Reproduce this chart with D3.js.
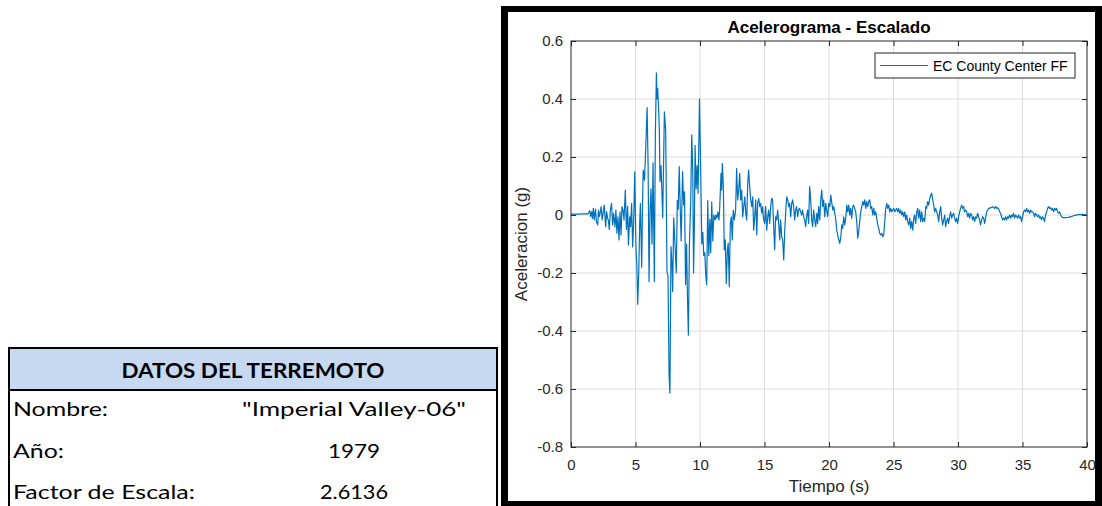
<!DOCTYPE html>
<html>
<head>
<meta charset="utf-8">
<script src="https://cdn.jsdelivr.net/npm/d3@7"></script>
<style>
  html, body { margin: 0; padding: 0; background: #fff; }
  svg { display: block; }
</style>
</head>
<body>
<svg id="fig" width="1102" height="506"></svg>
<script>
// Registro escalado: tiempo (s) y aceleración (g)
const tiempo = [
  0, 0.5, 1.0, 1.3, 1.34, 1.45, 1.52, 1.6, 1.66, 1.73,
  1.8, 1.86, 1.9, 1.97, 2.07, 2.13, 2.2, 2.27, 2.34, 2.41,
  2.48, 2.58, 2.64, 2.69, 2.76, 2.83, 2.89, 2.97, 3.05, 3.14,
  3.23, 3.3, 3.41, 3.48, 3.56, 3.64, 3.72, 3.8, 3.88, 3.95,
  4.03, 4.11, 4.21, 4.3, 4.39, 4.45, 4.55, 4.62, 4.7, 4.78,
  4.86, 4.94, 5.04, 5.1, 5.17, 5.25, 5.33, 5.38, 5.48, 5.55,
  5.6, 5.7, 5.8, 5.9, 5.98, 6.05, 6.13, 6.2, 6.28, 6.36,
  6.46, 6.54, 6.62, 6.67, 6.72, 6.8, 6.85, 6.9, 6.98, 7.11,
  7.24, 7.34, 7.44, 7.52, 7.6, 7.67, 7.75, 7.83, 7.88, 7.96,
  8.06, 8.16, 8.24, 8.31, 8.39, 8.47, 8.54, 8.65, 8.73, 8.8,
  8.88, 8.96, 9.03, 9.1, 9.18, 9.28, 9.36, 9.44, 9.5, 9.56,
  9.62, 9.7, 9.78, 9.85, 9.96, 10.06, 10.14, 10.22, 10.29, 10.37,
  10.45, 10.52, 10.6, 10.68, 10.76, 10.83, 10.91, 10.99, 11.07, 11.17,
  11.24, 11.31, 11.39, 11.47, 11.52, 11.63, 11.68, 11.73, 11.81, 11.88,
  11.96, 12.04, 12.12, 12.19, 12.27, 12.35, 12.43, 12.5, 12.58, 12.66,
  12.76, 12.84, 12.92, 13.0, 13.08, 13.15, 13.23, 13.31, 13.39, 13.47,
  13.55, 13.62, 13.7, 13.77, 13.85, 13.93, 14.01, 14.09, 14.16, 14.24,
  14.32, 14.4, 14.47, 14.55, 14.63, 14.7, 14.78, 14.86, 14.93, 15.01,
  15.09, 15.17, 15.25, 15.32, 15.4, 15.48, 15.55, 15.63, 15.71, 15.79,
  15.86, 15.94, 16.02, 16.1, 16.18, 16.25, 16.33, 16.41, 16.49, 16.57,
  16.64, 16.72, 16.8, 16.88, 16.95, 17.03, 17.11, 17.18, 17.26, 17.34,
  17.41, 17.49, 17.57, 17.64, 17.72, 17.8, 17.88, 17.95, 18.03, 18.11,
  18.19, 18.26, 18.34, 18.42, 18.5, 18.58, 18.66, 18.73, 18.81, 18.89,
  18.97, 19.05, 19.12, 19.2, 19.28, 19.36, 19.44, 19.51, 19.59, 19.67,
  19.75, 19.82, 19.9, 19.98, 20.06, 20.14, 20.22, 20.3, 20.37, 20.45,
  20.53, 20.6, 20.7, 20.83, 20.91, 20.99, 21.06, 21.14, 21.22, 21.3,
  21.38, 21.45, 21.53, 21.61, 21.68, 21.76, 21.84, 21.91, 21.99, 22.07,
  22.15, 22.23, 22.3, 22.38, 22.46, 22.54, 22.62, 22.69, 22.77, 22.85,
  22.92, 23.0, 23.08, 23.16, 23.23, 23.31, 23.39, 23.47, 23.54, 23.62,
  23.7, 23.78, 23.86, 23.93, 24.01, 24.09, 24.17, 24.24, 24.32, 24.4,
  24.48, 24.55, 24.63, 24.71, 24.79, 24.86, 24.94, 25.02, 25.1, 25.17,
  25.25, 25.33, 25.4, 25.48, 25.56, 25.64, 25.71, 25.79, 25.87, 25.95,
  26.02, 26.1, 26.18, 26.26, 26.33, 26.41, 26.49, 26.57, 26.64, 26.72,
  26.8, 26.88, 26.95, 27.03, 27.11, 27.19, 27.26, 27.34, 27.42, 27.5,
  27.57, 27.65, 27.73, 27.81, 27.89, 27.96, 28.04, 28.12, 28.19, 28.27,
  28.35, 28.42, 28.5, 28.58, 28.66, 28.73, 28.81, 28.89, 28.97, 29.04,
  29.12, 29.2, 29.27, 29.35, 29.43, 29.51, 29.58, 29.66, 29.74, 29.82,
  29.89, 29.97, 30.05, 30.13, 30.2, 30.28, 30.36, 30.44, 30.51, 30.59,
  30.67, 30.75, 30.82, 30.9, 30.98, 31.06, 31.13, 31.21, 31.29, 31.37,
  31.44, 31.52, 31.6, 31.68, 31.75, 31.83, 31.91, 31.99, 32.06, 32.14,
  32.22, 32.3, 32.37, 32.45, 32.53, 32.61, 32.68, 32.76, 32.84, 32.92,
  32.99, 33.07, 33.15, 33.23, 33.3, 33.38, 33.46, 33.54, 33.61, 33.69,
  33.77, 33.85, 33.92, 34.0, 34.08, 34.16, 34.23, 34.31, 34.39, 34.47,
  34.55, 34.62, 34.7, 34.78, 34.86, 34.93, 35.01, 35.09, 35.16, 35.24,
  35.32, 35.4, 35.47, 35.55, 35.63, 35.7, 35.78, 35.86, 35.94, 36.01,
  36.09, 36.17, 36.25, 36.32, 36.4, 36.48, 36.56, 36.63, 36.71, 36.79,
  36.87, 36.95, 37.02, 37.1, 37.18, 37.25, 37.33, 37.41, 37.49, 37.56,
  37.64, 37.72, 37.8, 37.87, 37.95, 38.03, 38.11, 38.29, 38.55, 38.81,
  39.06, 39.32, 39.58, 39.84, 40.0
];

const aceleracion = [
  0.003, 0.003, 0.004, 0.004, 0.005, 0.015, -0.005, 0.012, -0.012, 0.023,
  -0.017, 0.008, 0.02, -0.023, -0.034, 0.017, -0.005, 0.01, 0.029, -0.017,
  0.005, 0.034, -0.01, -0.04, 0.012, -0.01, -0.017, -0.05, 0.017, 0.04,
  -0.034, 0.006, -0.04, 0.017, -0.063, -0.006, -0.086, 0.011, -0.069, 0.029,
  0.017, -0.017, 0.086, -0.05, 0.03, -0.103, -0.006, -0.04, 0.04, -0.11,
  -0.023, 0.149, -0.12, -0.167, -0.308, -0.2, -0.02, 0.04, -0.18, 0.05,
  0.155, 0.12, 0.24, 0.37, 0.16, -0.23, 0.02, 0.09, -0.10, 0.18,
  -0.23, 0.28, 0.49, 0.40, 0.437, 0.356, 0.287, 0.115, 0.17, -0.01,
  0.356, 0.29, -0.195, -0.21, -0.55, -0.614, -0.109, -0.17, -0.264, -0.01,
  -0.10, -0.2, 0.05, 0.02, 0.167, 0.02, -0.09, 0.15, 0.035, 0.08,
  -0.24, -0.10, -0.287, -0.414, -0.10, 0.045, 0.276, 0.15, -0.2, -0.05,
  0.24, 0.09, 0.17, 0.075, 0.40, 0.14, -0.10, -0.06, -0.14, -0.13,
  -0.21, -0.24, 0.05, -0.14, -0.015, -0.13, 0.045, -0.09, 0, -0.017,
  0, -0.011, 0.011, -0.017, 0.017, 0.144, 0.086, 0.178, 0.098, -0.12,
  -0.086, -0.236, -0.12, -0.098, -0.247, -0.03, -0.006, -0.086, 0.017, -0.017,
  0.017, 0.16, 0.052, 0.086, 0.144, 0.052, 0.086, -0.006, 0.029, 0.063,
  0.006, -0.017, 0.109, 0.155, 0.098, 0.052, 0.029, 0.063, -0.052, -0.006,
  0.052, -0.069, 0.04, 0.057, 0.029, 0.04, 0.006, 0.029, -0.017, -0.029,
  0.029, -0.052, -0.006, 0.017, -0.029, 0.029, 0.057, 0.052, -0.04, -0.12,
  -0.006, -0.017, 0.017, -0.029, -0.086, -0.017, -0.075, -0.086, -0.155, -0.052,
  0.006, 0.063, 0.052, 0.029, 0.04, -0.006, 0.04, 0.052, 0.029, -0.017,
  0.017, 0.029, -0.006, 0.017, 0.023, 0.011, 0, 0.017, -0.006, -0.017,
  -0.04, -0.006, 0.017, -0.029, 0.098, 0.052, -0.017, -0.04, 0.017, -0.017,
  -0.04, 0.006, -0.029, 0.029, -0.017, 0.052, 0.086, 0.029, 0.052, -0.006,
  0.04, 0.017, -0.006, 0.04, 0.029, 0.069, 0.04, 0.017, 0.029, 0.006,
  -0.017, -0.052, -0.075, -0.098, -0.08, -0.034, -0.046, -0.006, -0.034, -0.011,
  0.034, 0.011, 0.034, 0, 0.023, -0.011, 0.029, 0.034, 0.023, 0.011,
  -0.023, -0.08, -0.057, -0.023, 0.011, 0.029, 0.046, 0.034, 0.052, 0.023,
  0.046, 0.029, 0.046, 0.052, 0.023, 0.029, 0, 0.023, 0, 0.011,
  -0.011, -0.034, -0.046, -0.063, -0.069, -0.063, -0.075, -0.069, -0.023, 0.023,
  0.04, 0.023, 0.034, 0.011, 0.023, 0.011, 0.017, 0.023, 0.011, 0.017,
  0.023, 0.011, 0.023, 0.006, 0.017, 0, 0.011, -0.006, 0.011, -0.017,
  0, -0.023, -0.034, -0.011, -0.046, -0.023, -0.052, -0.011, 0, -0.029,
  0.011, 0.023, -0.011, 0.017, -0.023, 0.011, -0.023, -0.011, -0.023, 0.029,
  0.023, 0.046, 0.034, 0.057, 0.069, 0.075, 0.052, 0.034, 0.011, 0.023,
  0.011, 0, -0.023, 0.011, 0.029, -0.011, -0.034, -0.017, 0, -0.04,
  -0.023, -0.011, -0.029, -0.006, 0.011, -0.011, 0, 0.006, -0.011, -0.023,
  -0.011, -0.029, -0.006, 0.011, 0.023, 0.034, 0.023, 0.029, 0.011, 0.017,
  0.011, -0.006, 0.006, -0.011, 0.006, 0, -0.017, -0.006, -0.023, -0.006,
  -0.011, 0.006, -0.006, -0.017, -0.034, -0.017, -0.006, -0.011, -0.029, -0.011,
  0.011, 0.017, 0.023, 0.023, 0.026, 0.025, 0.029, 0.026, 0.023, 0.029,
  0.023, 0.025, 0.021, 0.011, 0.006, -0.006, -0.017, -0.011, -0.017, -0.006,
  -0.017, -0.006, -0.011, 0, -0.011, 0, -0.006, 0.006, -0.011, 0,
  -0.006, -0.011, 0, -0.011, -0.006, -0.023, -0.006, 0.011, 0.017, 0.011,
  0.023, 0.011, 0.017, 0.006, 0.017, 0.011, 0.011, 0.006, -0.006, 0.006,
  0, -0.006, 0, -0.011, -0.006, -0.017, -0.006, -0.011, -0.023, 0,
  0.011, 0.023, 0.029, 0.023, 0.025, 0.017, 0.023, 0.011, 0.023, 0.017,
  0.023, 0.011, 0.006, 0.011, 0.002, -0.006, -0.009, -0.009, -0.008, -0.005,
  -0.001, 0.001, 0.002, 0.001, 0
];

const xTicks = [0, 5, 10, 15, 20, 25, 30, 35, 40];
const yTicks = [-0.8, -0.6, -0.4, -0.2, 0, 0.2, 0.4, 0.6];
const tituloGrafico = "Acelerograma - Escalado";
const etiquetaX = "Tiempo (s)";
const etiquetaY = "Aceleracion (g)";
const nombreSerie = "EC County Center FF";

const tablaTitulo = "DATOS DEL TERREMOTO";
const tablaCampos = ["Nombre:", "Año:", "Factor de Escala:"];
const tablaValores = ["\"Imperial Valley-06\"", "1979", "2.6136"];

const svg = d3.select("#fig");
const axFont = "'Liberation Sans', Arial, Helvetica, sans-serif";
const axColor = "#262626";
const lineColor = "#0072BD";

// ---------- tabla de datos del sismo ----------
const tabla = svg.append("g");
const tabL = 9, tabR = 497, tabTop = 348, tabHead = 390;
tabla.append("rect")
  .attr("x", tabL).attr("y", tabTop).attr("width", tabR - tabL).attr("height", tabHead - tabTop)
  .attr("fill", "#C6D9F0");
const tabFont = "Lato, 'Open Sans', sans-serif";
tabla.append("text")
  .attr("x", (tabL + tabR) / 2).attr("y", 377.5)
  .attr("text-anchor", "middle")
  .attr("font-family", tabFont).attr("font-weight", "bold").attr("font-size", 21)
  .attr("textLength", 263).attr("lengthAdjust", "spacingAndGlyphs")
  .attr("fill", "#000").text(tablaTitulo);
const filasY = [416, 457.5, 498.5];
const camposLargo = [95, 51, 182];
const valoresLargo = [224, 52, 68];
tablaCampos.forEach((c, i) => {
  tabla.append("text")
    .attr("x", 13).attr("y", filasY[i])
    .attr("font-family", tabFont).attr("font-size", 20)
    .attr("textLength", camposLargo[i]).attr("lengthAdjust", "spacingAndGlyphs")
    .attr("fill", "#000").text(c);
});
tablaValores.forEach((v, i) => {
  tabla.append("text")
    .attr("x", 354).attr("y", filasY[i])
    .attr("text-anchor", "middle")
    .attr("font-family", tabFont).attr("font-size", 20)
    .attr("textLength", valoresLargo[i]).attr("lengthAdjust", "spacingAndGlyphs")
    .attr("fill", "#000").text(v);
});
// bordes de la tabla
const borde = tabla.append("g").attr("stroke", "#000").attr("stroke-width", 2).attr("fill", "none");
borde.append("line").attr("x1", tabL).attr("x2", tabL).attr("y1", tabTop - 1).attr("y2", 506);
borde.append("line").attr("x1", tabR).attr("x2", tabR).attr("y1", tabTop - 1).attr("y2", 506);
borde.append("line").attr("x1", tabL - 1).attr("x2", tabR + 1).attr("y1", tabTop).attr("y2", tabTop);
borde.append("line").attr("x1", tabL - 1).attr("x2", tabR + 1).attr("y1", tabHead).attr("y2", tabHead);

// ---------- marco de la figura ----------
const marco = svg.append("g").attr("fill", "#000");
marco.append("rect").attr("x", 501).attr("y", 6).attr("width", 7).attr("height", 500);
marco.append("rect").attr("x", 501).attr("y", 6).attr("width", 601).attr("height", 6);
marco.append("rect").attr("x", 1095).attr("y", 6).attr("width", 7).attr("height", 500);
marco.append("rect").attr("x", 501).attr("y", 501).attr("width", 601).attr("height", 5);

// ---------- ejes ----------
const pl = 571, pr = 1087, pt = 41, pb = 447;
const x = d3.scaleLinear().domain([0, 40]).range([pl, pr]);
const y = d3.scaleLinear().domain([-0.8, 0.6]).range([pb, pt]);

// rejilla
const grid = svg.append("g").attr("stroke", "#dcdcdc").attr("stroke-width", 1);
grid.selectAll(".gx").data(xTicks.slice(1, -1)).join("line")
  .attr("x1", d => x(d)).attr("x2", d => x(d)).attr("y1", pt).attr("y2", pb);
grid.selectAll(".gy").data(yTicks.slice(1, -1)).join("line")
  .attr("x1", pl).attr("x2", pr).attr("y1", d => y(d)).attr("y2", d => y(d));

// serie temporal
const datos = d3.zip(tiempo, aceleracion);
svg.append("clipPath").attr("id", "area").append("rect")
  .attr("x", pl).attr("y", pt).attr("width", pr - pl).attr("height", pb - pt);
svg.append("path")
  .datum(datos)
  .attr("clip-path", "url(#area)")
  .attr("fill", "none")
  .attr("stroke", lineColor)
  .attr("stroke-width", 1.2)
  .attr("stroke-linejoin", "round")
  .attr("d", d3.line().x(d => x(d[0])).y(d => y(d[1])));

const fmt = d => String(d);
function estiloEje(g) {
  g.select(".domain").remove();
  g.selectAll(".tick line").attr("stroke", axColor);
  g.selectAll(".tick text").attr("fill", axColor)
    .attr("font-family", axFont).attr("font-size", 15);
}
svg.append("g").attr("transform", `translate(0,${pb})`)
  .call(d3.axisBottom(x).tickValues(xTicks).tickFormat(fmt).tickSize(-5).tickPadding(12))
  .call(estiloEje);
svg.append("g").attr("transform", `translate(0,${pt})`)
  .call(d3.axisTop(x).tickValues(xTicks).tickFormat("").tickSize(-5))
  .call(estiloEje);
svg.append("g").attr("transform", `translate(${pl},0)`)
  .call(d3.axisLeft(y).tickValues(yTicks).tickFormat(fmt).tickSize(-5).tickPadding(8))
  .call(estiloEje);
svg.append("g").attr("transform", `translate(${pr},0)`)
  .call(d3.axisRight(y).tickValues(yTicks).tickFormat("").tickSize(-5))
  .call(estiloEje);

svg.append("rect")
  .attr("x", pl).attr("y", pt).attr("width", pr - pl).attr("height", pb - pt)
  .attr("fill", "none").attr("stroke", axColor).attr("stroke-width", 1);

// títulos
svg.append("text")
  .attr("x", (pl + pr) / 2).attr("y", 33)
  .attr("text-anchor", "middle")
  .attr("font-family", axFont).attr("font-weight", "bold").attr("font-size", 17)
  .attr("fill", "#000").text(tituloGrafico);
svg.append("text")
  .attr("x", (pl + pr) / 2).attr("y", 492)
  .attr("text-anchor", "middle")
  .attr("font-family", axFont).attr("font-size", 17)
  .attr("fill", axColor).text(etiquetaX);
svg.append("text")
  .attr("transform", `translate(527,${(pt + pb) / 2}) rotate(-90)`)
  .attr("text-anchor", "middle")
  .attr("font-family", axFont).attr("font-size", 17)
  .attr("fill", axColor).text(etiquetaY);

// leyenda
const ley = svg.append("g");
ley.append("rect")
  .attr("x", 875).attr("y", 53).attr("width", 200).attr("height", 25)
  .attr("fill", "#fff").attr("stroke", axColor).attr("stroke-width", 1);
ley.append("line")
  .attr("x1", 880).attr("x2", 928).attr("y1", 65.5).attr("y2", 65.5)
  .attr("stroke", lineColor).attr("stroke-width", 1.2);
ley.append("text")
  .attr("x", 933).attr("y", 70.5)
  .attr("font-family", axFont).attr("font-size", 14)
  .attr("fill", "#000").text(nombreSerie);
</script>
</body>
</html>
